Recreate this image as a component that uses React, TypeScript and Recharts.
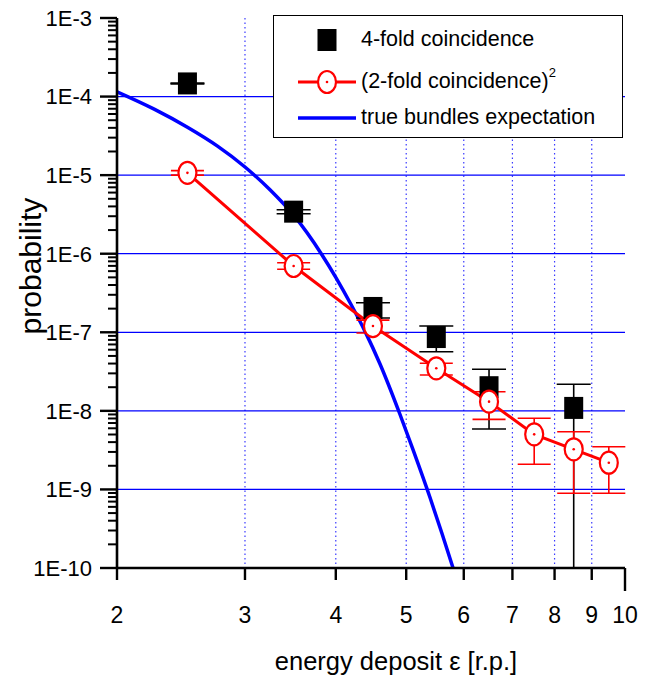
import React from 'react';
import { ComposedChart, Line, Scatter, XAxis, YAxis, CartesianGrid, ErrorBar } from 'recharts';

const FONT = '"Liberation Sans", Arial, sans-serif';

// 4-fold coincidence (black squares)
const fourX = [2.5, 3.5, 4.5, 5.5, 6.5, 8.5];
const fourY = [1.47e-4, 3.43e-6, 2.04e-7, 8.7e-8, 2.0e-8, 1.09e-8];
const fourLo = [1.45e-4, 3.23e-6, 1.52e-7, 5.66e-8, 5.87e-9, 1e-10];
const fourHi = [1.49e-4, 3.63e-6, 2.38e-7, 1.2e-7, 3.38e-8, 2.18e-8];

// (2-fold coincidence)^2 (red circles)
const twoX = [2.5, 3.5, 4.5, 5.5, 6.5, 7.5, 8.5, 9.5];
const twoY = [1.07e-5, 6.98e-7, 1.2e-7, 3.48e-8, 1.31e-8, 5.02e-9, 3.24e-9, 2.19e-9];
const twoLo = [1.0e-5, 6.34e-7, 9.79e-8, 2.86e-8, 7.8e-9, 2.09e-9, 8.93e-10, 8.93e-10];
const twoHi = [1.14e-5, 7.69e-7, 1.43e-7, 4.03e-8, 1.75e-8, 8.04e-9, 5.43e-9, 3.5e-9];

// true bundles expectation (blue curve)
const curveX = [2.0, 2.25, 2.5, 2.75, 3.0, 3.25, 3.5, 3.82, 4.0, 4.2, 4.39, 4.6, 4.9, 5.1, 5.39, 5.6, 5.8];
const curveY = [
  1.15e-4, 6.92e-5, 4.07e-5, 2.34e-5, 1.27e-5, 6.46e-6, 3.09e-6, 1.0e-6, 5.01e-7, 2.24e-7, 1.02e-7, 3.98e-8,
  9.12e-9, 3.35e-9, 7.94e-10, 2.75e-10, 1.0e-10,
];

const xTicks = [2, 3, 4, 5, 6, 7, 8, 9, 10];
const xGrid = [3, 4, 5, 6, 7, 8, 9];
const yMajor = [1e-3, 1e-4, 1e-5, 1e-6, 1e-7, 1e-8, 1e-9, 1e-10];
const yLabels = ['1E-3', '1E-4', '1E-5', '1E-6', '1E-7', '1E-8', '1E-9', '1E-10'];
const yGrid = [1e-4, 1e-5, 1e-6, 1e-7, 1e-8, 1e-9];

const yTicks: number[] = [];
yMajor.forEach((m) => {
  yTicks.push(m);
  if (m > 1e-10) for (let k = 2; k <= 9; k++) yTicks.push(m * k * 0.1);
});

const withErr = (xs: number[], ys: number[], lo: number[], hi: number[]) =>
  xs.map((x, i) => ({ x, y: ys[i], err: [ys[i] - lo[i], hi[i] - ys[i]] }));

const fourData = withErr(fourX, fourY, fourLo, fourHi);
const twoData = withErr(twoX, twoY, twoLo, twoHi);
const curveData = curveX.map((x, i) => ({ x, y: curveY[i] }));

const YTick = (props: any) => {
  const { x, y, payload } = props;
  const idx = yMajor.findIndex((m) => Math.abs(Math.log10(m) - Math.log10(payload.value)) < 1e-6);
  const major = idx >= 0;
  return (
    <g>
      <line x1={x - (major ? 17 : 9)} x2={x} y1={y} y2={y} stroke="#000" strokeWidth={major ? 2.4 : 2} />
      {major && (
        <text x={x - 25} y={y} dy="0.36em" textAnchor="end" fontFamily={FONT} fontSize={22} fill="#000">
          {yLabels[idx]}
        </text>
      )}
    </g>
  );
};

const XTick = (props: any) => {
  const { x, y, payload } = props;
  const v = payload.value;
  return (
    <g>
      <line x1={x} x2={x} y1={y} y2={y + (v === 10 ? 23 : 12)} stroke="#000" strokeWidth={2.4} />
      <text x={x} y={y + 55} textAnchor="middle" fontFamily={FONT} fontSize={23} fill="#000">
        {v}
      </text>
    </g>
  );
};

const Square = (props: any) => {
  const { cx, cy } = props;
  return <rect x={cx - 9.5} y={cy - 11} width={19} height={22} fill="#000" />;
};

const Ring = (props: any) => {
  const { cx, cy } = props;
  return (
    <g>
      <ellipse cx={cx} cy={cy} rx={9} ry={11} fill="#fff" stroke="#ff0000" strokeWidth={2.2} />
      <circle cx={cx} cy={cy} r={1.3} fill="#ff0000" />
    </g>
  );
};

const LegendBox = () => (
  <div
    style={{
      position: 'absolute',
      left: 273,
      top: 15,
      width: 350,
      height: 123,
      boxSizing: 'border-box',
      border: '1.5px solid #000',
      background: '#fff',
      fontFamily: FONT,
      fontSize: 21.5,
      color: '#000',
    }}
  >
    <svg width={90} height={123} style={{ position: 'absolute', left: -1.5, top: -1.5 }}>
      <rect x={44.5} y={14} width={19} height={22} fill="#000" />
      <line x1={25} x2={83} y1={67} y2={67} stroke="#ff0000" strokeWidth={3} />
      <ellipse cx={54} cy={67} rx={9} ry={11} fill="#fff" stroke="#ff0000" strokeWidth={2.2} />
      <circle cx={54} cy={67} r={1.3} fill="#ff0000" />
      <line x1={25} x2={83} y1={103} y2={103} stroke="#0000ff" strokeWidth={3.5} />
    </svg>
    <div style={{ position: 'absolute', left: 87, top: 11, whiteSpace: 'nowrap' }}>4-fold coincidence</div>
    <div style={{ position: 'absolute', left: 87, top: 53, whiteSpace: 'nowrap' }}>
      (2-fold coincidence)
      <span style={{ fontSize: 13, position: 'relative', top: -11 }}>2</span>
    </div>
    <div style={{ position: 'absolute', left: 87, top: 89, whiteSpace: 'nowrap' }}>true bundles expectation</div>
  </div>
);

export default function App() {
  return (
    <div style={{ position: 'absolute', left: 0, top: 0, width: 651, height: 679, background: '#fff' }}>
      <ComposedChart width={651} height={679} margin={{ top: 18, right: 26, bottom: 0, left: 0 }}>
        <CartesianGrid horizontal={false} verticalValues={xGrid} stroke="#3a3aff" strokeWidth={1.2} strokeDasharray="1.5 3" />
        <CartesianGrid vertical={false} horizontalValues={yGrid} stroke="#0000ff" strokeWidth={1.3} />
        <XAxis
          type="number"
          dataKey="x"
          scale="log"
          domain={[2, 10]}
          allowDataOverflow
          ticks={xTicks}
          interval={0}
          height={111}
          tickSize={0}
          tickMargin={0}
          tick={<XTick />}
          axisLine={{ stroke: '#000', strokeWidth: 2.6 }}
          tickLine={false}
        />
        <YAxis
          type="number"
          dataKey="y"
          scale="log"
          domain={[1e-10, 1e-3]}
          allowDataOverflow
          ticks={yTicks}
          interval={0}
          width={117}
          tickSize={0}
          tickMargin={0}
          tick={<YTick />}
          axisLine={{ stroke: '#000', strokeWidth: 2.6 }}
          tickLine={false}
        />
        <Line
          data={curveData}
          dataKey="y"
          type="monotone"
          stroke="#0000ff"
          strokeWidth={3.5}
          dot={false}
          isAnimationActive={false}
        />
        <Scatter data={fourData} dataKey="y" shape={<Square />} isAnimationActive={false}>
          <ErrorBar dataKey="err" direction="y" width={17} stroke="#000" strokeWidth={1.6} />
        </Scatter>
        <Line
          data={twoData}
          dataKey="y"
          type="linear"
          stroke="#ff0000"
          strokeWidth={3}
          dot={<Ring />}
          isAnimationActive={false}
        />
        <Line data={twoData} dataKey="y" stroke="none" dot={false} legendType="none" isAnimationActive={false}>
          <ErrorBar dataKey="err" direction="y" width={16.5} stroke="#ff0000" strokeWidth={1.6} />
        </Line>
      </ComposedChart>
      <LegendBox />
      <div
        style={{
          position: 'absolute',
          left: 31,
          top: 266,
          transform: 'translate(-50%, -50%) rotate(-90deg)',
          fontFamily: FONT,
          fontSize: 30,
          whiteSpace: 'nowrap',
        }}
      >
        probability
      </div>
      <div
        style={{
          position: 'absolute',
          left: 396,
          top: 661,
          transform: 'translate(-50%, -50%)',
          fontFamily: FONT,
          fontSize: 25.5,
          whiteSpace: 'nowrap',
        }}
      >
        energy deposit ε [r.p.]
      </div>
    </div>
  );
}
